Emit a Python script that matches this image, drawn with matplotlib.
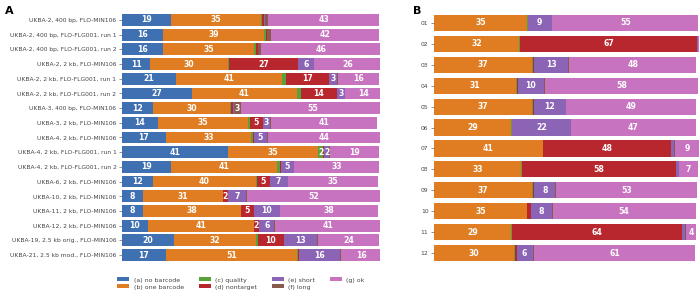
import matplotlib
matplotlib.use("Agg")
import matplotlib.pyplot as plt
import numpy as np

categories = ["(a) no barcode", "(b) one barcode", "(c) quality", "(d) nontarget",
              "(e) short", "(f) long", "(g) ok"]
colors = ["#3F71B2", "#E07D22", "#5BA13A", "#B8272E", "#8B64B6", "#8A5A4C", "#C873C0"]

labels_a = [
    "UKBA-2, 400 bp, FLO-MIN106",
    "UKBA-2, 400 bp, FLO-FLG001, run 1",
    "UKBA-2, 400 bp, FLO-FLG001, run 2",
    "UKBA-2, 2 kb, FLO-MIN106",
    "UKBA-2, 2 kb, FLO-FLG001, run 1",
    "UKBA-2, 2 kb, FLO-FLG001, run 2",
    "UKBA-3, 400 bp, FLO-MIN106",
    "UKBA-3, 2 kb, FLO-MIN106",
    "UKBA-4, 2 kb, FLO-MIN106",
    "UKBA-4, 2 kb, FLO-FLG001, run 1",
    "UKBA-4, 2 kb, FLO-FLG001, run 2",
    "UKBA-6, 2 kb, FLO-MIN106",
    "UKBA-10, 2 kb, FLO-MIN106",
    "UKBA-11, 2 kb, FLO-MIN106",
    "UKBA-12, 2 kb, FLO-MIN106",
    "UKBA-19, 2.5 kb orig., FLO-MIN106",
    "UKBA-21, 2.5 kb mod., FLO-MIN106",
]
a_no_barcode  = [19, 16, 16, 11, 21, 27, 12, 14, 17, 41, 19, 12, 8, 8, 10, 20, 17]
a_one_barcode = [35, 39, 35, 30, 41, 41, 30, 35, 33, 35, 41, 40, 31, 38, 41, 32, 51]
a_quality     = [0.4, 0.8, 1.0, 0.3, 1.4, 1.3, 0.3, 0.5, 0.8, 2, 1.2, 0.2, 0.1, 0.1, 0.1, 0.6, 0.2]
a_nontarget   = [0.6, 0.3, 0.6, 27, 17, 14, 0.8, 5, 0.3, 0.3, 0.3, 5, 2, 5, 2, 10, 0.4]
a_short       = [0.3, 0.2, 0.2, 6, 3, 3, 0.2, 3, 5, 2, 5, 7, 7, 10, 6, 13, 16]
a_long        = [1.4, 1.4, 1.2, 0.2, 0.2, 0.2, 3, 0.3, 0.3, 0.2, 0.2, 0.2, 0.2, 0.2, 0.2, 0.2, 0.1]
a_ok          = [43, 42, 46, 26, 16, 14, 55, 41, 44, 19, 33, 35, 52, 38, 41, 24, 16]

labels_b = ["01", "02", "03", "04", "05", "06", "07", "08", "09", "10", "11", "12"]
b_no_barcode  = [0] * 12
b_one_barcode = [35, 32, 37, 31, 37, 29, 41, 33, 37, 35, 29, 30]
b_quality     = [0.3, 0.4, 0.4, 0.5, 0.2, 0.3, 0.3, 0.3, 0.4, 0.2, 0.5, 0.4]
b_nontarget   = [0.1, 67, 0.3, 0.1, 0.5, 0.3, 48, 58, 0.4, 1.4, 64, 0.8]
b_short       = [9, 0.1, 13, 10, 12, 22, 1.4, 1.0, 8, 8, 1.4, 6]
b_long        = [0.3, 0.1, 0.3, 0.1, 0.2, 0.2, 0.3, 0.3, 0.3, 0.2, 0.1, 0.4]
b_ok          = [55, 0.5, 48, 58, 49, 47, 9, 7, 53, 54, 4, 61]

series_a = [a_no_barcode, a_one_barcode, a_quality, a_nontarget, a_short, a_long, a_ok]
series_b = [b_no_barcode, b_one_barcode, b_quality, b_nontarget, b_short, b_long, b_ok]

fig = plt.figure(figsize=(7, 2.93), dpi=100)
W, H = 700, 293
def add_ax(x0, y0, x1, y1):
    return fig.add_axes([x0 / W, 1 - y1 / H, (x1 - x0) / W, (y1 - y0) / H])

axA = add_ax(122, 12.6, 380, 262.4)
axB = add_ax(434, 12.5, 699, 263.5)

def draw(ax, labels, series, height):
    n = len(labels)
    y = np.arange(n)
    left = np.zeros(n)
    handles = []
    for cat, vals, col in zip(categories, series, colors):
        vals = np.array(vals, dtype=float)
        h = ax.barh(y, vals, left=left, height=height, color=col,
                    edgecolor="none", label=cat)
        handles.append(h)
        for yi, (l, v) in enumerate(zip(left, vals)):
            if v >= 1.5:
                ax.text(l + v / 2, yi, f"{int(round(v))}", ha="center", va="center",
                        color="white", fontsize=5.6, fontweight="bold")
        left += vals
    ax.set_yticks(y)
    ax.set_yticklabels(labels, fontsize=4.3, color="#444444")
    ax.set_ylim(n - 0.5, -0.5)
    ax.set_xlim(0, 100)
    ax.set_xticks([])
    for s in ax.spines.values():
        s.set_visible(False)
    ax.tick_params(axis="y", length=2, width=0.5, color="#666666", pad=2)
    return handles

hA = draw(axA, labels_a, series_a, 0.8)
draw(axB, labels_b, series_b, 0.77)

fig.text(5 / W, 1 - 11 / H, "A", fontsize=8, fontweight="bold", va="center", ha="left")
fig.text(413 / W, 1 - 11 / H, "B", fontsize=8, fontweight="bold", va="center", ha="left")

leg = fig.legend(handles=hA, labels=categories, ncol=4, loc="center",
                 bbox_to_anchor=(241 / W, 1 - 283.5 / H), frameon=False,
                 fontsize=4.5, handlelength=1.9, handleheight=0.6,
                 columnspacing=2.4, labelspacing=0.3, handletextpad=0.7)
for t in leg.get_texts():
    t.set_color("#444444")

fig.savefig("out.png", dpi=100)
